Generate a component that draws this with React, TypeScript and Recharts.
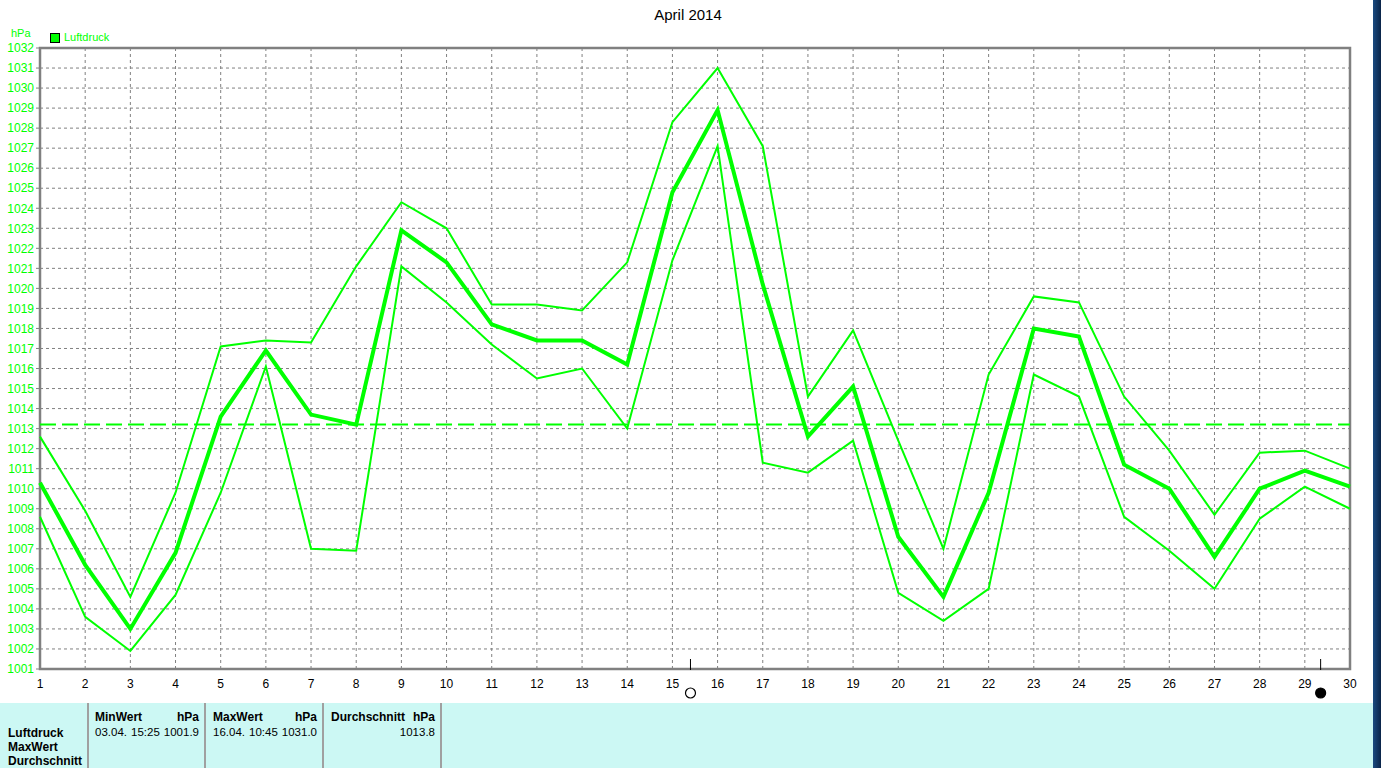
import React from 'react';
import {
  LineChart,
  Line,
  XAxis,
  YAxis,
  CartesianGrid,
  ReferenceLine,
  ReferenceArea,
  ReferenceDot,
} from 'recharts';

// Data
const days = [1, 2, 3, 4, 5, 6, 7, 8, 9, 10, 11, 12, 13, 14, 15, 16, 17, 18, 19, 20, 21, 22, 23, 24, 25, 26, 27, 28, 29, 30];

const maxValues = [
  1012.6, 1008.9, 1004.6, 1009.8, 1017.1, 1017.4, 1017.3, 1021.1, 1024.3, 1023.0,
  1019.2, 1019.2, 1018.9, 1021.3, 1028.3, 1031.0, 1027.1, 1014.6, 1017.9, 1012.4,
  1007.0, 1015.7, 1019.6, 1019.3, 1014.6, 1011.9, 1008.7, 1011.8, 1011.9, 1011.0,
];

const avgValues = [
  1010.3, 1006.2, 1003.0, 1006.8, 1013.6, 1016.9, 1013.7, 1013.2, 1022.9, 1021.3,
  1018.2, 1017.4, 1017.4, 1016.2, 1024.8, 1028.9, 1020.2, 1012.6, 1015.1, 1007.6,
  1004.6, 1009.8, 1018.0, 1017.6, 1011.2, 1010.0, 1006.6, 1010.0, 1010.9, 1010.1,
];

const minValues = [
  1008.6, 1003.6, 1001.9, 1004.7, 1009.8, 1016.1, 1007.0, 1006.9, 1021.1, 1019.3,
  1017.2, 1015.5, 1016.0, 1013.0, 1021.4, 1027.1, 1011.3, 1010.8, 1012.4, 1004.8,
  1003.4, 1005.0, 1015.7, 1014.6, 1008.6, 1006.9, 1005.0, 1008.5, 1010.1, 1009.0,
];

const yTicks = [
  1001, 1002, 1003, 1004, 1005, 1006, 1007, 1008, 1009, 1010, 1011, 1012, 1013, 1014, 1015, 1016,
  1017, 1018, 1019, 1020, 1021, 1022, 1023, 1024, 1025, 1026, 1027, 1028, 1029, 1030, 1031, 1032,
];

const referenceLevel = 1013.2;

// moon phases: full moon and new moon, placed by fractional day
const moonPhases = [
  { day: 15.4, kind: 'full' },
  { day: 29.35, kind: 'new' },
];

const data = days.map((day, i) => ({
  day,
  max: maxValues[i],
  avg: avgValues[i],
  min: minValues[i],
}));

const GREEN = '#00ff00';
const GRAY = '#808080';
const FONT = '"Liberation Sans", Arial, sans-serif';

function MoonMarker(kind: string) {
  return (props: any) => {
    const { cx, cy } = props;
    return (
      <g>
        <line x1={cx} x2={cx} y1={cy - 10} y2={cy + 1} stroke="#000" strokeWidth={1} />
        <circle
          cx={cx}
          cy={cy + 24}
          r={5}
          fill={kind === 'new' ? '#000' : 'none'}
          stroke="#000"
          strokeWidth={1.2}
        />
      </g>
    );
  };
}

const cellHead: React.CSSProperties = { fontWeight: 'bold', fontSize: 12, display: 'flex', justifyContent: 'space-between' };
const cellText: React.CSSProperties = { fontSize: 11.5, display: 'flex', justifyContent: 'space-between' };
const divider: React.CSSProperties = { position: 'absolute', top: 0, bottom: 0, width: 2, background: '#a0a0a0' };

export default function App() {
  return (
    <div style={{ position: 'absolute', left: 0, top: 0, width: 1381, height: 768, background: '#fff', fontFamily: FONT, overflow: 'hidden' }}>
      {/* title */}
      <div style={{ position: 'absolute', left: 0, width: 1376, top: 6, textAlign: 'center', fontSize: 15, color: '#000' }}>
        April 2014
      </div>

      {/* unit + legend */}
      <div style={{ position: 'absolute', left: 11, top: 27, fontSize: 11, color: GREEN }}>hPa</div>
      <div style={{ position: 'absolute', left: 50, top: 33, width: 8, height: 8, background: GREEN, border: '1px solid #000' }} />
      <div style={{ position: 'absolute', left: 64, top: 31, fontSize: 11, color: GREEN }}>Luftdruck</div>

      <div style={{ position: 'absolute', left: 0, top: 0 }}>
        <LineChart width={1373} height={703} data={data} margin={{ top: 48, right: 23, left: 0, bottom: 4 }}>
          <CartesianGrid stroke={GRAY} strokeDasharray="3 3" />
          <XAxis
            dataKey="day"
            type="number"
            domain={[1, 30]}
            ticks={days}
            interval={0}
            height={30}
            axisLine={false}
            tickLine={false}
            tick={{ fill: '#000', fontSize: 12, fontFamily: FONT }}
            tickMargin={4}
          />
          <YAxis
            type="number"
            domain={[1001, 1032]}
            ticks={yTicks}
            interval={0}
            width={40}
            axisLine={false}
            tickSize={4}
            tickLine={{ stroke: GRAY }}
            tick={{ fill: GREEN, fontSize: 12, fontFamily: FONT }}
          />
          <ReferenceArea x1={1} x2={30} y1={1001} y2={1032} fill="none" stroke={GRAY} strokeWidth={2.5} ifOverflow="visible" />
          <ReferenceLine y={referenceLevel} stroke={GREEN} strokeWidth={2} strokeDasharray="16 6" />
          <Line type="linear" dataKey="max" stroke={GREEN} strokeWidth={2} dot={false} isAnimationActive={false} />
          <Line type="linear" dataKey="min" stroke={GREEN} strokeWidth={2} dot={false} isAnimationActive={false} />
          <Line type="linear" dataKey="avg" stroke={GREEN} strokeWidth={4} dot={false} isAnimationActive={false} />
          {moonPhases.map((m) => (
            <ReferenceDot key={m.kind} x={m.day} y={1001} r={0} ifOverflow="visible" shape={MoonMarker(m.kind)} />
          ))}
        </LineChart>
      </div>

      {/* statistics table */}
      <div style={{ position: 'absolute', left: 0, top: 703, width: 1373, height: 65, background: '#ccf8f4', color: '#000' }}>
        <div style={{ position: 'absolute', left: 8, top: 23, fontSize: 12, fontWeight: 'bold', lineHeight: '14px' }}>
          <div>Luftdruck</div>
          <div>MaxWert</div>
          <div>Durchschnitt</div>
        </div>
        <div style={{ ...divider, left: 87 }} />
        <div style={{ position: 'absolute', left: 95, width: 104, top: 7, lineHeight: '15px' }}>
          <div style={cellHead}><span>MinWert</span><span>hPa</span></div>
          <div style={cellText}><span>03.04.</span><span>15:25</span><span>1001.9</span></div>
        </div>
        <div style={{ ...divider, left: 204 }} />
        <div style={{ position: 'absolute', left: 213, width: 104, top: 7, lineHeight: '15px' }}>
          <div style={cellHead}><span>MaxWert</span><span>hPa</span></div>
          <div style={cellText}><span>16.04.</span><span>10:45</span><span>1031.0</span></div>
        </div>
        <div style={{ ...divider, left: 322 }} />
        <div style={{ position: 'absolute', left: 331, width: 104, top: 7, lineHeight: '15px' }}>
          <div style={cellHead}><span>Durchschnitt</span><span>hPa</span></div>
          <div style={{ ...cellText, justifyContent: 'flex-end' }}><span>1013.8</span></div>
        </div>
        <div style={{ ...divider, left: 440 }} />
      </div>

      {/* window edge */}
      <div style={{ position: 'absolute', left: 1373, top: 0, width: 8, height: 768, background: 'linear-gradient(90deg, #1a4a80, #0a2448)' }} />
    </div>
  );
}
